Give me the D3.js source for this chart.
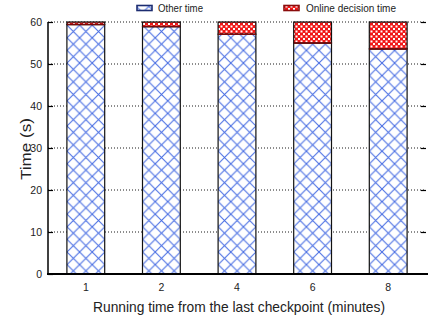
<!DOCTYPE html>
<html><head><meta charset="utf-8">
<script src="https://cdn.jsdelivr.net/npm/d3@7"></script>
<style>body{margin:0;background:#fff}svg{display:block;font-family:"Liberation Sans",Arial,sans-serif}</style>
</head><body><svg id="c" width="430" height="324"></svg>
<script>
const categories = ["1","2","4","6","8"];
const onlineTime = [0.6, 1.1, 2.9, 5.0, 6.4];
const otherTime = [59.4, 58.9, 57.1, 55.0, 53.6];
const yTicks = [0,10,20,30,40,50,60];
const seriesNames = ["Other time","Online decision time"];

const svg = d3.select("#c");
const m = {l:48, r:426, t:22, b:274};
const x = d3.scaleBand().domain(categories).range([m.l, m.r]).paddingInner(0.5).paddingOuter(0.25);
const y = d3.scaleLinear().domain([0,60]).range([m.b, m.t]);

const defs = svg.append("defs");
const pb = defs.append("pattern").attr("id","pBlue").attr("patternUnits","userSpaceOnUse")
  .attr("width",12.6).attr("height",12.6).attr("x",67).attr("y",0);
pb.append("rect").attr("width",12.6).attr("height",12.6).attr("fill","#fff");
pb.append("path").attr("d","M0,0L12.6,12.6M0,12.6L12.6,0M-1,1L1,-1M11.6,13.6L13.6,11.6").attr("stroke","#4a6fe3").attr("stroke-width",1.1);
const pr = defs.append("pattern").attr("id","pRed").attr("patternUnits","userSpaceOnUse")
  .attr("width",5).attr("height",5);
pr.append("rect").attr("width",5).attr("height",5).attr("fill","#f01818");
pr.append("rect").attr("x",0.5).attr("y",0.5).attr("width",2).attr("height",2).attr("fill","#fff");
pr.append("rect").attr("x",3).attr("y",3).attr("width",2).attr("height",2).attr("fill","#fff");

// grid
svg.append("g").selectAll("line").data(yTicks.filter(d=>d>0)).join("line")
  .attr("x1",m.l).attr("x2",m.r).attr("y1",d=>y(d)).attr("y2",d=>y(d))
  .attr("stroke","#000").attr("stroke-width",0.9).attr("stroke-dasharray","1,2");

// y axis
const ya = svg.append("g").attr("transform",`translate(${m.l},0)`)
  .call(d3.axisLeft(y).tickValues(yTicks).tickSize(-5).tickPadding(6));
ya.select(".domain").remove();
ya.selectAll("text").attr("font-size",10.5).attr("fill","#222").attr("font-family","Liberation Sans, Arial");
ya.selectAll("line").attr("stroke","#000").attr("stroke-width",1.2);
svg.append("g").attr("transform",`translate(${m.r},0)`)
  .call(d3.axisRight(y).tickValues(yTicks.filter(d=>d>0)).tickSize(-5).tickFormat(""))
  .call(g=>g.select(".domain").remove())
  .selectAll("line").attr("stroke","#000").attr("stroke-width",1.2);

// bars
const g = svg.append("g");
categories.forEach((c,i)=>{
  const bx = x(c), bw = x.bandwidth();
  g.append("rect").attr("x",bx).attr("y",y(otherTime[i])).attr("width",bw).attr("height",y(0)-y(otherTime[i]))
    .attr("fill","url(#pBlue)").attr("stroke","#111").attr("stroke-width",1.2);
  g.append("rect").attr("x",bx).attr("y",y(otherTime[i]+onlineTime[i])).attr("width",bw)
    .attr("height",y(otherTime[i])-y(otherTime[i]+onlineTime[i]))
    .attr("fill","url(#pRed)").attr("stroke","#111").attr("stroke-width",1.2);
  g.append("line").attr("x1",bx).attr("x2",bx+bw).attr("y1",y(otherTime[i])).attr("y2",y(otherTime[i]))
    .attr("stroke","#7a0a0a").attr("stroke-width",1.5);
});

// axes lines
svg.append("line").attr("x1",m.l).attr("x2",m.l).attr("y1",m.t).attr("y2",m.b).attr("stroke","#000").attr("stroke-width",1.5);
svg.append("line").attr("x1",m.l-1).attr("x2",m.r+2).attr("y1",m.b).attr("y2",m.b).attr("stroke","#000").attr("stroke-width",2.2);

// x axis labels
const xa = svg.append("g").attr("transform",`translate(0,${m.b})`)
  .call(d3.axisBottom(x).tickSize(0).tickPadding(10));
xa.select(".domain").remove();
xa.selectAll("text").attr("font-size",10.5).attr("fill","#222").attr("font-family","Liberation Sans, Arial");

// titles
svg.append("text").attr("x",(m.l+m.r)/2+2).attr("y",312).attr("text-anchor","middle")
  .attr("font-size",14.5).attr("fill","#222").attr("textLength",292).attr("lengthAdjust","spacingAndGlyphs")
  .text("Running time from the last checkpoint (minutes)");
svg.append("text").attr("transform","translate(31,149) rotate(-90)").attr("text-anchor","middle")
  .attr("font-size",15).attr("fill","#222").attr("textLength",62).attr("lengthAdjust","spacingAndGlyphs")
  .text("Time (s)");

// legend
const leg = [{x:137, fill:"url(#pBlue)", st:"#1c2c70", tx:158, tl:45},{x:284, fill:"url(#pRed)", st:"#8a0c0c", tx:306, tl:90}];
leg.forEach((l,i)=>{
  svg.append("rect").attr("x",l.x).attr("y",5.5).attr("width",15).attr("height",5).attr("fill",l.fill).attr("stroke",l.st).attr("stroke-width",1.6);
  svg.append("text").attr("x",l.tx).attr("y",12).attr("font-size",10.5).attr("fill","#222")
    .attr("textLength",l.tl).attr("lengthAdjust","spacingAndGlyphs").text(seriesNames[i]);
});
</script></body></html>
